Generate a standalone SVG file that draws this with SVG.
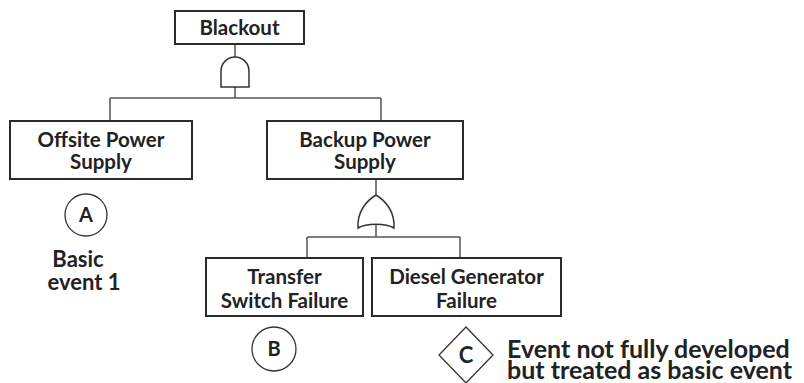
<svg xmlns="http://www.w3.org/2000/svg" width="804" height="383" viewBox="0 0 804 383">
<style>
.box{fill:#fff;stroke:#2b2b2b;stroke-width:2}
.ln{fill:none;stroke:#555;stroke-width:1.5}
.gate{fill:#fff;stroke:#333;stroke-width:1.5}
.ev{fill:#fff;stroke:#333;stroke-width:1.3}
text{font-family:Lato,"Open Sans",sans-serif;font-weight:bold;fill:#222}
.lbl{font-size:20.5px;text-anchor:middle}
.big{font-size:25px}
</style>
<rect width="804" height="383" fill="#fff"/>
<g id="connectors">
<path class="ln" d="M235 44V57"/>
<path class="ln" d="M235 87V98M110 98H381M110 98V121M381 98V121"/>
<path class="ln" d="M376 179V196"/>
<path class="ln" d="M376 223V237M307 237H460M307 237V258M460 237V258"/>
</g>
<g id="gate-and">
<path class="gate" d="M221 87V71A14 14 0 0 1 249 71V87Z"/>
</g>
<g id="gate-or">
<path class="gate" d="M358 228C357 212 366 201 376 195C386 201 395 212 394 228C386 223 366 223 358 228Z"/>
</g>
<g id="blackout">
<rect class="box" x="175" y="11" width="129" height="33"/>
<text class="lbl" x="239.5" y="35">Blackout</text>
</g>
<g id="offsite">
<rect class="box" x="10" y="121" width="182" height="58"/>
<text class="lbl" x="101" y="147">Offsite Power</text>
<text class="lbl" x="101" y="169">Supply</text>
</g>
<g id="backup">
<rect class="box" x="267" y="121" width="196" height="58"/>
<text class="lbl" x="365" y="147">Backup Power</text>
<text class="lbl" x="365" y="169">Supply</text>
</g>
<g id="transfer">
<rect class="box" x="206" y="258" width="157" height="58"/>
<text class="lbl" x="284.5" y="284">Transfer</text>
<text class="lbl" x="284.5" y="308">Switch Failure</text>
</g>
<g id="diesel">
<rect class="box" x="372" y="258" width="189" height="58"/>
<text class="lbl" x="466.5" y="284">Diesel Generator</text>
<text class="lbl" x="466.5" y="308">Failure</text>
</g>
<g id="event-a">
<circle class="ev" cx="86" cy="215" r="21"/>
<text class="lbl" x="86" y="222" style="font-size:20px">A</text>
<text class="big" x="78" y="267" text-anchor="middle" style="font-size:22px">Basic</text>
<text class="big" x="84" y="290" text-anchor="middle" style="font-size:22px">event 1</text>
</g>
<g id="event-b">
<circle class="ev" cx="274" cy="349" r="22"/>
<text class="lbl" x="274" y="356" style="font-size:20px">B</text>
</g>
<g id="event-c">
<path class="ev" d="M466 327L493 355L466 383L439 355Z"/>
<text class="lbl" x="466" y="363" style="font-size:22px">C</text>
<text class="big" x="507" y="358">Event not fully developed</text>
<text class="big" x="507" y="379">but treated as basic event</text>
</g>
</svg>
